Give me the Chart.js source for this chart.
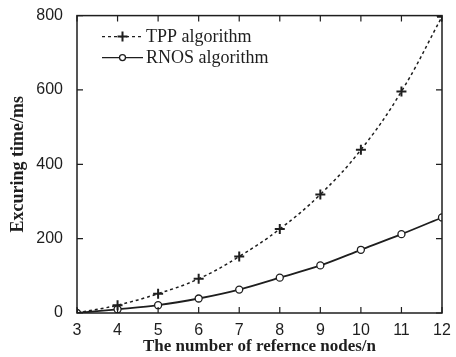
<!DOCTYPE html>
<html>
<head>
<meta charset="utf-8">
<script src="https://cdn.jsdelivr.net/npm/chart.js@4/dist/chart.umd.min.js"></script>
<style>
  html, body { margin: 0; padding: 0; background: #fff; }
  #wrap { width: 456px; height: 357px; }
</style>
</head>
<body>
<div id="wrap"><canvas id="c"></canvas></div>
<script>
const nodes = [3, 4, 5, 6, 7, 8, 9, 10, 11, 12];
const tppTimes = [0, 21, 52, 92, 152, 226, 319, 439, 596, 797];
const rnosTimes = [0, 10, 21, 39, 63, 95, 128, 170, 212, 257];
const yTicks = [0, 200, 400, 600, 800];
const seriesNames = ['TPP algorithm', 'RNOS algorithm'];

const ink = '#1e1e1e';
const toPoints = vals => nodes.map((n, i) => ({ x: n, y: vals[i] }));

// frame + inward ticks + legend inside the plot
const framePlugin = {
  id: 'frame',
  afterDraw(chart) {
    const { ctx, chartArea: a, scales } = chart;
    ctx.save();
    ctx.strokeStyle = ink;
    ctx.lineWidth = 1.5;
    ctx.strokeRect(a.left, a.top, a.right - a.left, a.bottom - a.top);
    ctx.lineWidth = 1.2;
    ctx.beginPath();
    nodes.forEach(n => {
      const px = scales.x.getPixelForValue(n);
      ctx.moveTo(px, a.bottom); ctx.lineTo(px, a.bottom - 6);
      ctx.moveTo(px, a.top); ctx.lineTo(px, a.top + 6);
    });
    yTicks.forEach(v => {
      const py = scales.y.getPixelForValue(v);
      ctx.moveTo(a.left, py); ctx.lineTo(a.left + 6, py);
      ctx.moveTo(a.right, py); ctx.lineTo(a.right - 6, py);
    });
    ctx.stroke();

    // legend
    const lx0 = a.left + 25, lx1 = a.left + 66;
    const rows = [a.top + 21, a.top + 42];
    chart.data.datasets.forEach((ds, i) => {
      const y = rows[i];
      ctx.strokeStyle = ink;
      ctx.lineWidth = 1.3;
      ctx.setLineDash(ds.borderDash || []);
      ctx.beginPath(); ctx.moveTo(lx0, y); ctx.lineTo(lx1, y); ctx.stroke();
      ctx.setLineDash([]);
      const cx = (lx0 + lx1) / 2;
      ctx.beginPath();
      if (ds.pointStyle === 'cross') {
        ctx.moveTo(cx - 5, y); ctx.lineTo(cx + 5, y);
        ctx.moveTo(cx, y - 5); ctx.lineTo(cx, y + 5);
        ctx.lineWidth = 2;
        ctx.stroke();
      } else {
        ctx.arc(cx, y, 3, 0, Math.PI * 2);
        ctx.fillStyle = '#fff'; ctx.fill();
        ctx.lineWidth = 1.3; ctx.stroke();
      }
      ctx.fillStyle = ink;
      ctx.font = '18px "Liberation Serif", serif';
      ctx.textBaseline = 'middle';
      ctx.fillText(ds.label, lx1 + 3, y + 1);
    });
    ctx.restore();
  }
};

new Chart(document.getElementById('c'), {
  type: 'line',
  data: {
    datasets: [
      {
        label: seriesNames[0],
        data: toPoints(tppTimes),
        borderColor: ink,
        borderWidth: 1.5,
        borderDash: [3, 3],
        tension: 0.4,
        pointStyle: 'cross',
        pointRadius: 5,
        pointBorderWidth: 2,
        pointBorderColor: ink,
        fill: false
      },
      {
        label: seriesNames[1],
        data: toPoints(rnosTimes),
        borderColor: ink,
        borderWidth: 1.8,
        tension: 0.3,
        pointStyle: 'circle',
        pointRadius: 3.5,
        pointBorderWidth: 1.3,
        pointBorderColor: ink,
        pointBackgroundColor: '#fff',
        fill: false
      }
    ]
  },
  options: {
    responsive: true,
    maintainAspectRatio: false,
    animation: false,
    layout: { padding: { top: 11, right: 14, left: 8, bottom: 0 } },
    plugins: { legend: { display: false }, tooltip: { enabled: false } },
    scales: {
      x: {
        type: 'linear',
        min: 3, max: 12,
        grid: { display: false },
        border: { display: false },
        afterBuildTicks: s => { s.ticks = nodes.map(v => ({ value: v })); },
        afterFit: s => { s.height = 44; },
        ticks: { color: ink, font: { family: '"Liberation Sans", Arial, sans-serif', size: 16 }, padding: 0, maxRotation: 0 },
        title: {
          display: true,
          text: 'The number of refernce nodes/n',
          color: ink,
          font: { family: '"Liberation Serif", serif', size: 17, weight: 'bold' },
          padding: { top: 1, bottom: 0 }
        }
      },
      y: {
        min: 0, max: 800,
        grid: { display: false },
        border: { display: false },
        afterBuildTicks: s => { s.ticks = yTicks.map(v => ({ value: v })); },
        afterFit: s => { s.width = 69; },
        ticks: { color: ink, font: { family: '"Liberation Sans", Arial, sans-serif', size: 16 }, padding: 6 },
        title: {
          display: true,
          text: 'Excuring time/ms',
          color: ink,
          font: { family: '"Liberation Serif", serif', size: 18, weight: 'bold' },
          padding: { top: 0, bottom: 2 }
        }
      }
    }
  },
  plugins: [framePlugin]
});
</script>
</body>
</html>
